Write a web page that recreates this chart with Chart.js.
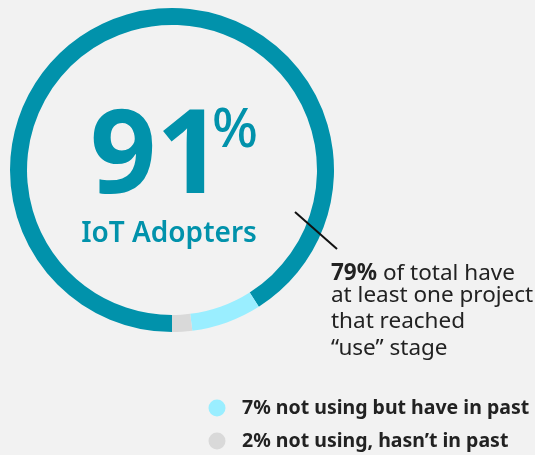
<!DOCTYPE html>
<html lang="en">
<head>
  <meta charset="UTF-8" />
  <title>IoT Adopters</title>
  <script src="https://cdn.jsdelivr.net/npm/chart.js"></script>
  <style>
    body {
      margin: 0;
      background-color: #f2f2f2;
      font-family: 'Noto Sans', sans-serif;
    }
    canvas {
      display: block;
    }
  </style>
</head>
<body>
  <canvas id="ring" width="535" height="455"></canvas>

  <script>
    const segmentLabels = ['IoT Adopters', 'not using but have in past', 'not using, hasn\u2019t in past'];
    const segmentValues = [91, 7, 2];
    const segmentColors = ['#0192ab', '#9aeeff', '#d9d9d9'];

    const legendLabels = ['7% not using but have in past', '2% not using, hasn\u2019t in past'];
    const legendColors = ['#9aeeff', '#d9d9d9'];

    const calloutBold = '79%';
    const calloutLines = [' of total have', 'at least one project', 'that reached', '\u201cuse\u201d stage'];

    const FONT = "'Noto Sans', sans-serif";

    // text in the middle, the callout and the little legend
    const overlay = {
      id: 'overlay',
      afterDraw(chart) {
        const ctx = chart.ctx;
        ctx.save();

        // big number
        ctx.fillStyle = '#0192ab';
        ctx.textBaseline = 'alphabetic';
        ctx.textAlign = 'left';
        ctx.font = `bold 116px ${FONT}`;
        ctx.fillText(segmentValues[0], 90, 193);
        ctx.font = `500 54px ${FONT}`;
        ctx.fillText('%', 212, 147);

        ctx.font = `600 28px ${FONT}`;
        ctx.textAlign = 'center';
        ctx.fillText(segmentLabels[0], 169, 242);

        // pointer line
        ctx.strokeStyle = '#111';
        ctx.lineWidth = 2;
        ctx.beginPath();
        ctx.moveTo(295, 212);
        ctx.lineTo(337, 249);
        ctx.stroke();

        // callout text
        ctx.textAlign = 'left';
        ctx.fillStyle = '#222';
        ctx.font = `bold 22.5px ${FONT}`;
        ctx.fillText(calloutBold, 331, 280);
        const bw = ctx.measureText(calloutBold).width;
        ctx.font = `22.5px ${FONT}`;
        ctx.fillText(calloutLines[0], 331 + bw, 280);
        const baselines = [302, 328, 355];
        for (let i = 1; i < calloutLines.length; i++) {
          ctx.fillText(calloutLines[i], 331, baselines[i - 1]);
        }

        // legend
        const rows = [408, 441];
        ctx.font = `bold 19.5px ${FONT}`;
        for (let i = 0; i < legendLabels.length; i++) {
          ctx.fillStyle = legendColors[i];
          ctx.beginPath();
          ctx.arc(217, rows[i], 8.5, 0, Math.PI * 2);
          ctx.fill();
          ctx.fillStyle = '#222';
          ctx.textBaseline = 'middle';
          ctx.fillText(legendLabels[i], 242, rows[i]);
        }

        ctx.restore();
      }
    };

    new Chart(document.getElementById('ring'), {
      type: 'doughnut',
      data: {
        labels: segmentLabels,
        datasets: [{
          data: segmentValues,
          backgroundColor: segmentColors,
          borderWidth: 0
        }]
      },
      options: {
        responsive: false,
        animation: false,
        rotation: 180,
        cutout: '89.5%',
        layout: {
          padding: { left: 10, top: 8, right: 201, bottom: 123 }
        },
        plugins: {
          legend: { display: false },
          tooltip: { enabled: false }
        }
      },
      plugins: [overlay]
    });
  </script>
</body>
</html>
